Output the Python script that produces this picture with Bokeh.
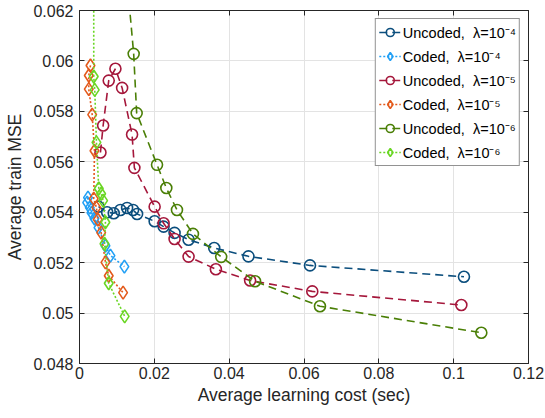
from bokeh.plotting import figure
from bokeh.models import FixedTicker, Range1d, Legend, LegendItem, LinearAxis
from bokeh.embed import file_html
from bokeh.resources import INLINE

# ---------------- data ----------------
x_ticks = [0, 0.02, 0.04, 0.06, 0.08, 0.1, 0.12]
x_tick_labels = ["0", "0.02", "0.04", "0.06", "0.08", "0.1", "0.12"]
y_ticks = [0.048, 0.05, 0.052, 0.054, 0.056, 0.058, 0.06, 0.062]
y_tick_labels = ["0.048", "0.05", "0.052", "0.054", "0.056", "0.058", "0.06", "0.062"]

unc4_x = [0.00507, 0.00739, 0.00915, 0.01093, 0.01272, 0.01432, 0.01539, 0.02008,
          0.02248, 0.02541, 0.02915, 0.036, 0.04515, 0.0616, 0.10275]
unc4_y = [0.05422, 0.05400, 0.05396, 0.05409, 0.05417, 0.05409, 0.05393, 0.05364,
          0.05343, 0.05318, 0.05291, 0.05258, 0.05225, 0.05189, 0.05144]

cod4_x = [0.00227, 0.00205, 0.00275, 0.0032, 0.0040, 0.00507, 0.00693, 0.00827, 0.0120]
cod4_y = [0.05458, 0.05438, 0.05418, 0.05398, 0.05375, 0.05339, 0.05267, 0.05228, 0.05184]

unc5_x = [0.0056, 0.00632, 0.00781, 0.0096, 0.01139, 0.01405, 0.01467, 0.02008,
          0.02248, 0.02541, 0.02915, 0.03645, 0.0456, 0.06221, 0.10205]
unc5_y = [0.05637, 0.05744, 0.05922, 0.05969, 0.05893, 0.05708, 0.05576, 0.05422,
          0.05356, 0.05294, 0.05224, 0.05174, 0.05129, 0.05086, 0.05032]

cod5_x = [0.00293, 0.00248, 0.00248, 0.00339, 0.0040, 0.00381, 0.00453, 0.00488,
          0.00579, 0.00693, 0.00781, 0.01165]
cod5_y = [0.05982, 0.05942, 0.05888, 0.05787, 0.05644, 0.05454, 0.05418, 0.05371,
          0.05319, 0.05201, 0.05148, 0.05081]

unc6_x = [0.0120, 0.01448, 0.01528, 0.02072, 0.0232, 0.02605, 0.03032, 0.03787,
          0.04693, 0.06427, 0.10739]
unc6_y = [0.0644, 0.06028, 0.05793, 0.05588, 0.05496, 0.05409, 0.05314, 0.05223,
          0.05126, 0.05027, 0.04922]

cod6_x = [0.0038, 0.00381, 0.00408, 0.00453, 0.00515, 0.00579, 0.00632, 0.00693,
          0.00667, 0.00781, 0.01208]
cod6_y = [0.0650, 0.05938, 0.05885, 0.05677, 0.05494, 0.05473, 0.05446, 0.0536,
          0.05275, 0.05118, 0.04987]

series = [
    ("Uncoded,  λ=10⁻⁴", unc4_x, unc4_y, "#0b4e7d", "circle", "dashed"),
    ("Coded,  λ=10⁻⁴", cod4_x, cod4_y, "#22a0f5", "diamond", "dotted"),
    ("Uncoded,  λ=10⁻⁵", unc5_x, unc5_y, "#a5173b", "circle", "dashed"),
    ("Coded,  λ=10⁻⁵", cod5_x, cod5_y, "#e35a1c", "diamond", "dotted"),
    ("Uncoded,  λ=10⁻⁶", unc6_x, unc6_y, "#4a7f06", "circle", "dashed"),
    ("Coded,  λ=10⁻⁶", cod6_x, cod6_y, "#6ad624", "diamond", "dotted"),
]

FONT = "Liberation Sans"
TXT = "#262626"

p = figure(width=545, height=418, x_range=Range1d(0, 0.12), y_range=Range1d(0.048, 0.062),
           output_backend="svg", toolbar_location=None,
           min_border_left=79, min_border_right=17, min_border_top=10, min_border_bottom=55)

p.outline_line_color = TXT
p.outline_line_width = 1
p.background_fill_color = "white"

for ax in (p.xaxis[0], p.yaxis[0]):
    ax.major_tick_in = 5
    ax.major_tick_out = 0
    ax.minor_tick_line_color = None
    ax.axis_line_color = TXT
    ax.major_tick_line_color = TXT
    ax.major_label_text_font = FONT
    ax.major_label_text_font_size = "16px"
    ax.major_label_text_color = TXT
    ax.axis_label_text_font = FONT
    ax.axis_label_text_font_size = "17.5px"
    ax.axis_label_text_font_style = "normal"
    ax.axis_label_text_color = TXT

p.xaxis.ticker = FixedTicker(ticks=x_ticks)
p.yaxis.ticker = FixedTicker(ticks=y_ticks)
p.xaxis.major_label_overrides = dict(zip(x_ticks, x_tick_labels))
p.yaxis.major_label_overrides = dict(zip(y_ticks, y_tick_labels))
p.xaxis.axis_label = "Average learning cost (sec)"
p.yaxis.axis_label = "Average train MSE"
p.xaxis.major_label_standoff = 3
p.yaxis.major_label_standoff = 6
p.xaxis.axis_label_standoff = 3
p.yaxis.axis_label_standoff = 5

# inward ticks on the top and right edges (box style), labels not drawn
top_ax = LinearAxis(ticker=FixedTicker(ticks=x_ticks), major_label_text_color=None,
                    major_label_text_font_size="6px",
                    major_tick_in=5, major_tick_out=0, minor_tick_line_color=None,
                    major_label_standoff=0, axis_line_color=TXT, major_tick_line_color=TXT)
right_ax = LinearAxis(ticker=FixedTicker(ticks=y_ticks), major_label_text_color=None,
                      major_label_text_font_size="6px",
                      major_tick_in=5, major_tick_out=0, minor_tick_line_color=None,
                      major_label_standoff=0, axis_line_color=TXT, major_tick_line_color=TXT)
p.add_layout(top_ax, "above")
p.add_layout(right_ax, "right")

p.xgrid.ticker = FixedTicker(ticks=x_ticks)
p.ygrid.ticker = FixedTicker(ticks=y_ticks)
p.grid.grid_line_color = "#e3e3e3"
p.grid.grid_line_width = 1

items = []
for label, xs, ys, col, mk, dash in series:
    ld = "8 5" if dash == "dashed" else "2 2"
    rl = p.line(xs, ys, line_color=col, line_width=1.6, line_dash=ld)
    rm = p.scatter(xs, ys, marker=mk, size=11 if mk == "circle" else 13,
                   fill_color=None, line_color=col, line_width=1.6)
    items.append(LegendItem(label=label, renderers=[rl, rm]))

legend = Legend(items=items, location="top_right")
legend.margin = 8
legend.padding = 3
legend.spacing = 4
legend.label_height = 20
legend.glyph_height = 20
legend.glyph_width = 22
legend.label_standoff = 2
legend.label_text_font = FONT
legend.label_text_font_size = "14.5px"
legend.label_text_color = "black"
legend.border_line_color = TXT
legend.border_line_width = 1
legend.background_fill_alpha = 1
p.add_layout(legend)

open("out.html", "w").write(file_html(p, INLINE))
